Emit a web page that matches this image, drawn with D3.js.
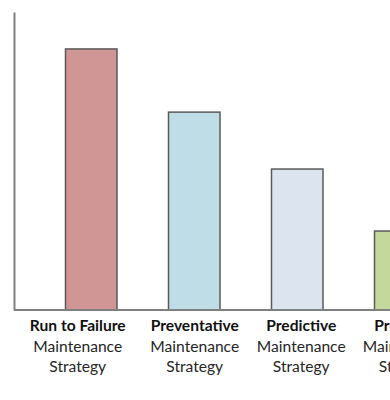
<!DOCTYPE html>
<html>
<head>
<meta charset="utf-8">
<script src="https://cdn.jsdelivr.net/npm/d3@7"></script>
<style>
  body { margin: 0; background: #fff; }
  svg { display: block; }
</style>
</head>
<body>
<div id="chart"></div>
<script>
// Chart data
const strategies = ["Run to Failure", "Preventative", "Predictive", "Proactive"];
const subLines = ["Maintenance", "Strategy"];
const costValues = [87.6, 66.4, 47.3, 26.5];
const barColors = ["#d09696", "#bedde6", "#dce5ef", "#c5d89b"];

const W = 390, H = 400;
const left = 14, baseY = 310, topY = 12;
// the labels are loose text boxes, not exactly centred under the bars
const labelShift = [-13.5, 0.5, 4, 7];

const svg = d3.select("#chart")
  .append("svg")
  .attr("width", W)
  .attr("height", H);

const x = d3.scaleBand()
  .domain(strategies)
  .range([left, left + 463.5])
  .paddingInner(0.5)
  .paddingOuter(0.5);

const y = d3.scaleLinear()
  .domain([0, 100])
  .range([baseY, topY]);

// Bars
svg.selectAll("rect.bar")
  .data(strategies)
  .enter()
  .append("rect")
  .attr("class", "bar")
  .attr("x", d => x(d))
  .attr("y", (d, i) => y(costValues[i]))
  .attr("width", x.bandwidth())
  .attr("height", (d, i) => baseY - y(costValues[i]))
  .attr("fill", (d, i) => barColors[i])
  .attr("stroke", "#5a5a5a")
  .attr("stroke-width", 1.5);

// Axes (lines only)
svg.append("g")
  .attr("transform", "translate(0," + baseY + ")")
  .call(d3.axisBottom(x).tickSize(0).tickFormat(""))
  .call(g => g.select(".domain")
    .attr("d", "M" + left + ",0H" + W)
    .attr("stroke", "#808080")
    .attr("stroke-width", 2));

svg.append("g")
  .attr("transform", "translate(" + left + ",0)")
  .call(d3.axisLeft(y).tickSize(0).tickFormat("").ticks(0))
  .call(g => g.select(".domain")
    .attr("stroke", "#808080")
    .attr("stroke-width", 2));

// Category labels
const cx = (d, i) => x(d) + x.bandwidth() / 2 + labelShift[i];

const labels = svg.selectAll("text.cat")
  .data(strategies)
  .enter()
  .append("text")
  .attr("class", "cat")
  .attr("text-anchor", "middle")
  .attr("font-family", "Lato, sans-serif")
  .attr("font-size", 15.6)
  .attr("fill", "#111");

labels.append("tspan")
  .attr("x", cx)
  .attr("y", 331)
  .attr("font-weight", "bold")
  .text(d => d);

subLines.forEach((s, k) => {
  labels.append("tspan")
    .attr("x", cx)
    .attr("y", 351.5 + k * 20)
    .attr("fill", "#262626")
    .text(s);
});
</script>
</body>
</html>
